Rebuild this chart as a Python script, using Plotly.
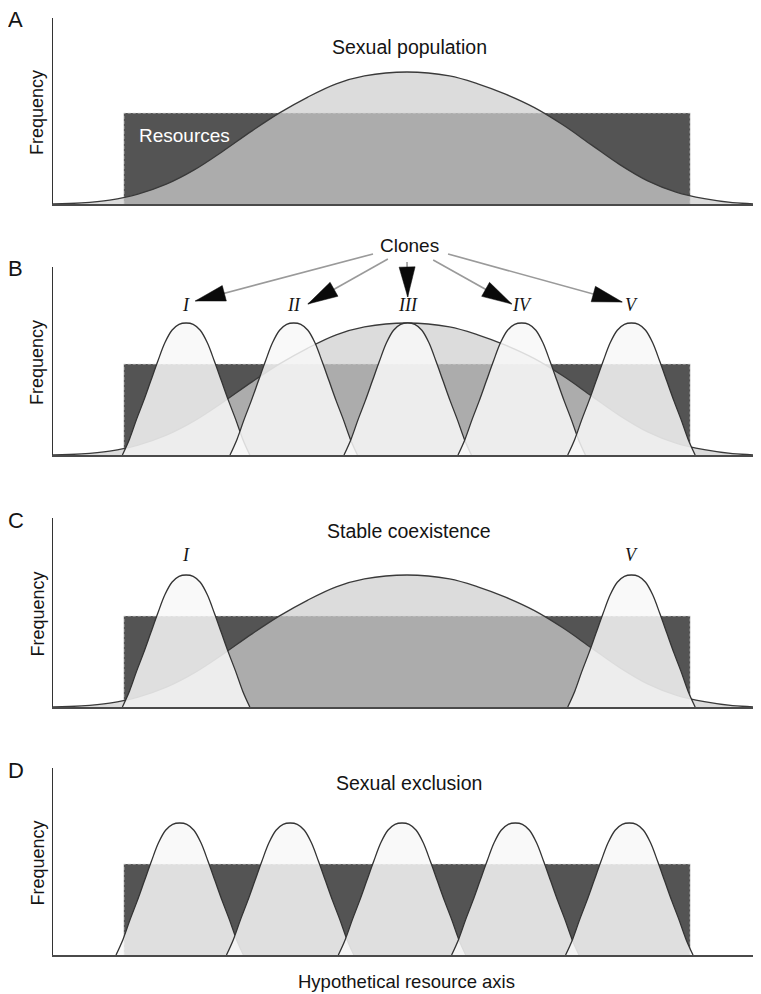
import math
import plotly.graph_objects as go

# ---------------- data ----------------
# hypothetical resource axis runs 0..100, frequency in units of the clone peak height
resource_x = [10, 90]            # extent of the resource distribution
resource_level = 0.69            # resource frequency level

# sexual population distribution
sex_x = [0, 4, 8, 12, 16, 20, 24, 28, 32, 36, 40, 44, 50,
         56, 60, 64, 68, 72, 76, 80, 84, 88, 92, 96, 100]
sex_f = [0.0, 0.008, 0.03, 0.075, 0.15, 0.26, 0.40, 0.55, 0.69, 0.81, 0.91, 0.97, 1.0,
         0.97, 0.91, 0.83, 0.73, 0.60, 0.45, 0.30, 0.175, 0.09, 0.04, 0.01, 0.0]

# clone niche profile (offset from clone centre, frequency)
clone_dx = [-9, -8, -7, -6, -5, -4, -3, -2, -1, 0, 1, 2, 3, 4, 5, 6, 7, 8, 9]
clone_f = [0, 0.12, 0.27, 0.41, 0.56, 0.71, 0.85, 0.945, 0.99, 1.0,
           0.99, 0.945, 0.85, 0.71, 0.56, 0.41, 0.27, 0.12, 0]

clone_names_B = ["I", "II", "III", "IV", "V"]
clones_B = [18.8, 34.0, 50.1, 66.2, 81.7]
clone_names_C = ["I", "V"]
clones_C = [18.8, 81.7]
clones_D = [17.9, 33.5, 49.3, 65.3, 81.4]

# "Clones" arrows (tail -> tip)
arrow_tail_x = [45.2, 47.3, 50.0, 53.7, 55.8]
arrow_tail_y = [1.523, 1.485, 1.462, 1.477, 1.523]
arrow_tip_x = [20.1, 36.0, 50.1, 64.8, 80.4]
arrow_tip_y = [1.167, 1.144, 1.197, 1.144, 1.159]

panel_letters = ["A", "B", "C", "D"]
panel_titles = ["Sexual population", None, "Stable coexistence", "Sexual exclusion"]
panel_title_y = [1.19, None, 1.33, 1.30]

# ---------------- layout constants ----------------
OFF = 8                      # page body margin of the html page
PAGE_W, PAGE_H = 761, 994
W, H = PAGE_W - OFF, PAGE_H - OFF
AX_LEFT = 53
PX_PER_F = 132.0
PX_PER_X = (PAGE_W - AX_LEFT) / 100.0
panel_top = [18, 267, 518, 768]
panel_bot = [204, 455, 707, 955]
HEAD_LEN, HEAD_HALF_W = 30.0, 8.0


def px_x(p):
    return (p - OFF) / W


def px_y(p):
    return 1 - (p - OFF) / H


RECT_FILL = "#545454"
RECT_EDGE = "rgba(232,232,232,0.9)"
SEX_FILL = "rgba(206,206,206,0.72)"
SEX_LINE = "#3a3a3a"
CLONE_FILL = "rgba(248,248,248,0.85)"
CLONE_LINE = "#333333"
FONT = "Liberation Sans, Arial, sans-serif"
SERIF = "Liberation Serif, Times New Roman, serif"
TXT = "#141414"

fig = go.Figure()


def axis_names(i):
    n = "" if i == 0 else str(i + 1)
    return "x" + n, "y" + n


def add_rect(i):
    xa, ya = axis_names(i)
    fig.add_trace(go.Scatter(
        x=[resource_x[0], resource_x[0], resource_x[1], resource_x[1]],
        y=[0, resource_level, resource_level, 0],
        mode="lines", fill="toself", fillcolor=RECT_FILL,
        line=dict(color=RECT_EDGE, width=1, dash="3px,2px"),
        xaxis=xa, yaxis=ya, hoverinfo="skip", showlegend=False))


def add_sexual(i):
    xa, ya = axis_names(i)
    fig.add_trace(go.Scatter(
        x=sex_x, y=sex_f, mode="lines", fill="tozeroy", fillcolor=SEX_FILL,
        line=dict(color=SEX_LINE, width=1.3, shape="spline", smoothing=1.0),
        xaxis=xa, yaxis=ya, hoverinfo="skip", showlegend=False))


def add_clones(i, centers):
    xa, ya = axis_names(i)
    for c in centers:
        fig.add_trace(go.Scatter(
            x=[c + d for d in clone_dx], y=clone_f, mode="lines",
            fill="toself", fillcolor=CLONE_FILL,
            line=dict(color=CLONE_LINE, width=1.3, shape="spline", smoothing=1.0),
            xaxis=xa, yaxis=ya, hoverinfo="skip", showlegend=False))


# Panel A
add_rect(0)
add_sexual(0)
# Panel B
add_rect(1)
add_sexual(1)
add_clones(1, clones_B)
# Panel C
add_rect(2)
add_sexual(2)
add_clones(2, clones_C)
# Panel D
add_rect(3)
add_clones(3, clones_D)

# arrows on an invisible overlay axis covering panel B and the space above it
OV_TOP, OV_BOT = 225, panel_bot[1]
lx, ly = [], []
for tx, ty, hx, hy in zip(arrow_tail_x, arrow_tail_y, arrow_tip_x, arrow_tip_y):
    lx += [tx, hx, None]
    ly += [ty, hy, None]
fig.add_trace(go.Scatter(x=lx, y=ly, mode="lines",
                         line=dict(color="#9a9a9a", width=1.6),
                         xaxis="x5", yaxis="y5", hoverinfo="skip", showlegend=False))
# arrow heads: triangles built from each arrow's direction
for tx, ty, hx, hy in zip(arrow_tail_x, arrow_tail_y, arrow_tip_x, arrow_tip_y):
    sx, sy = (hx - tx) * PX_PER_X, (hy - ty) * PX_PER_F
    n = math.hypot(sx, sy)
    ux, uy = sx / n, sy / n
    bx, by = -ux * HEAD_LEN, -uy * HEAD_LEN
    px, py = -uy * HEAD_HALF_W, ux * HEAD_HALF_W
    hxs = [hx, hx + (bx + px) / PX_PER_X, hx + (bx - px) / PX_PER_X, hx]
    hys = [hy, hy + (by + py) / PX_PER_F, hy + (by - py) / PX_PER_F, hy]
    fig.add_trace(go.Scatter(x=hxs, y=hys, mode="lines", fill="toself",
                             fillcolor="#0a0a0a", line=dict(color="#0a0a0a", width=0.5),
                             xaxis="x5", yaxis="y5", hoverinfo="skip", showlegend=False))

layout = dict(width=W, height=H, margin=dict(l=0, r=0, t=0, b=0),
              paper_bgcolor="white", plot_bgcolor="rgba(0,0,0,0)", showlegend=False)

annotations = []
for i in range(4):
    xa, ya = axis_names(i)
    xkey = "xaxis" + ("" if i == 0 else str(i + 1))
    ykey = "yaxis" + ("" if i == 0 else str(i + 1))
    top, bot = panel_top[i], panel_bot[i]
    layout[xkey] = dict(domain=[px_x(AX_LEFT), 1.0], range=[0, 100], anchor=ya,
                        showline=True, linecolor="#4a4a4a", linewidth=2.2,
                        showgrid=False, zeroline=False, showticklabels=False, ticks="")
    layout[ykey] = dict(domain=[px_y(bot), px_y(top)], range=[0, (bot - top) / PX_PER_F],
                        anchor=xa, showline=True, linecolor="#333333", linewidth=1.3,
                        showgrid=False, zeroline=False, showticklabels=False, ticks="")
    # panel letter
    annotations.append(dict(text=panel_letters[i], xref="paper", yref="paper",
                            x=px_x(16), y=px_y(top + 2), xanchor="center", yanchor="middle",
                            showarrow=False, font=dict(family=FONT, size=22, color=TXT)))
    # y label
    annotations.append(dict(text="Frequency", xref="paper", yref="paper",
                            x=px_x(37), y=px_y((top + bot) / 2 + 2), textangle=-90,
                            xanchor="center", yanchor="middle", showarrow=False,
                            font=dict(family=FONT, size=18, color=TXT)))
    if panel_titles[i]:
        annotations.append(dict(text=panel_titles[i], xref=xa, yref=ya, x=50.3,
                                y=panel_title_y[i], xanchor="center", yanchor="middle",
                                showarrow=False, font=dict(family=FONT, size=19.5, color=TXT)))

layout["xaxis5"] = dict(domain=[px_x(AX_LEFT), 1.0], range=[0, 100], anchor="y5", visible=False)
layout["yaxis5"] = dict(domain=[px_y(OV_BOT), px_y(OV_TOP)],
                        range=[0, (OV_BOT - OV_TOP) / PX_PER_F], anchor="x5", visible=False)

annotations.append(dict(text="Resources", xref="x", yref="y", x=18.6, y=0.52,
                        xanchor="center", yanchor="middle", showarrow=False,
                        font=dict(family=FONT, size=19, color="white")))
annotations.append(dict(text="Clones", xref="x5", yref="y5", x=50.3, y=1.59,
                        xanchor="center", yanchor="middle", showarrow=False,
                        font=dict(family=FONT, size=19, color=TXT)))
for name, c in zip(clone_names_B, clones_B):
    annotations.append(dict(text="<i>" + name + "</i>", xref="x2", yref="y2", x=c, y=1.14,
                            xanchor="center", yanchor="middle", showarrow=False,
                            font=dict(family=SERIF, size=18, color=TXT)))
for name, c in zip(clone_names_C, clones_C):
    annotations.append(dict(text="<i>" + name + "</i>", xref="x3", yref="y3", x=c, y=1.15,
                            xanchor="center", yanchor="middle", showarrow=False,
                            font=dict(family=SERIF, size=18, color=TXT)))
annotations.append(dict(text="Hypothetical resource axis", xref="x4", yref="paper",
                        x=49.9, y=px_y(981), xanchor="center", yanchor="middle",
                        showarrow=False, font=dict(family=FONT, size=18.5, color=TXT)))
layout["annotations"] = annotations

fig.update_layout(**layout)
fig.write_html("out.html")
